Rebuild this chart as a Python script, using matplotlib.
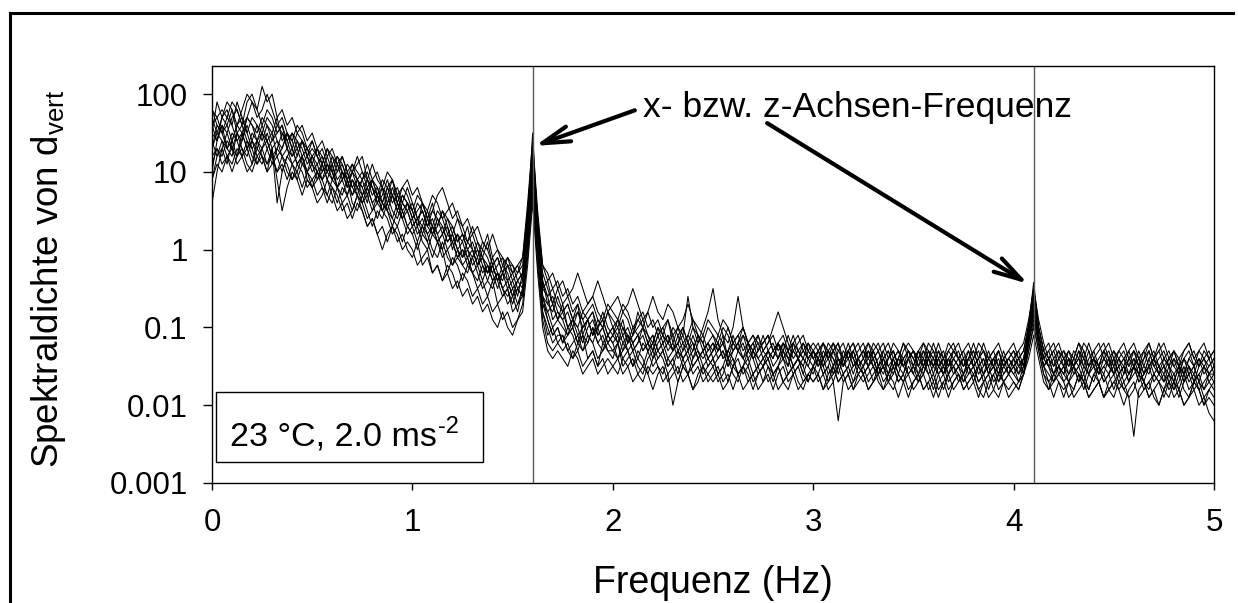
import matplotlib
matplotlib.use("Agg")
import matplotlib.pyplot as plt
import matplotlib.ticker as mticker
import numpy as np
from matplotlib.lines import Line2D

plt.rcParams["font.family"] = ["Liberation Sans", "DejaVu Sans"]
plt.rcParams["mathtext.fontset"] = "custom"
plt.rcParams["mathtext.rm"] = "Liberation Sans"
plt.rcParams["mathtext.it"] = "Liberation Sans:italic"
plt.rcParams["mathtext.bf"] = "Liberation Sans:bold"

# ── Data: log10 of spectral density, one value per 0.025 Hz (0 … 5 Hz) ──
freq_step = 0.025

psd_log_1 = [
    1.6, 1.7, 1.8, 1.7, 1.9, 1.8, 1.6, 1.9, 2.0, 1.8,
    2.1, 1.9, 2.0, 1.7, 1.8, 1.6, 1.7, 1.5, 1.6, 1.4,
    1.5, 1.3, 1.4, 1.2, 1.3, 1.1, 1.2, 1.0, 1.1, 0.9,
    1.0, 0.8, 0.9, 0.7, 0.8, 0.6, 0.7, 0.8, 0.6, 0.5,
    0.6, 0.4, 0.5, 0.3, 0.4, 0.2, 0.3, 0.1, 0.2, 0.0,
    0.1, -0.1, 0.0, -0.2, -0.1, -0.3, -0.2, -0.4, -0.3, -0.5,
    -0.4, -0.6, -0.3, 0.4, 1.5, 0.3, -0.4, -0.7, -0.8, -0.6,
    -0.8, -0.7, -0.9, -0.8, -1.0, -0.9, -0.8, -1.0, -0.9, -1.1,
    -1.0, -0.9, -1.1, -1.0, -1.2, -1.1, -1.0, -1.2, -1.1, -1.3,
    -1.2, -1.1, -1.3, -1.2, -1.1, -1.3, -1.2, -1.4, -1.3, -1.2,
    -1.3, -1.2, -1.4, -1.3, -1.2, -1.3, -1.4, -1.3, -1.2, -1.4,
    -1.3, -1.4, -1.3, -1.2, -1.4, -1.3, -1.5, -1.4, -1.3, -1.4,
    -1.3, -1.5, -1.4, -1.3, -1.4, -1.5, -1.3, -1.4, -1.6, -1.4,
    -1.3, -1.4, -1.5, -1.4, -1.3, -1.5, -1.4, -1.6, -1.4, -1.3,
    -1.4, -1.5, -1.3, -1.4, -1.6, -1.4, -1.5, -1.3, -1.4, -1.5,
    -1.4, -1.6, -1.5, -1.4, -1.3, -1.5, -1.4, -1.6, -1.5, -1.4,
    -1.5, -1.4, -1.3, -1.0, -0.42, -1.0, -1.3, -1.5, -1.4, -1.6,
    -1.5, -1.4, -1.6, -1.5, -1.3, -1.5, -1.4, -1.6, -1.5, -1.4,
    -1.6, -1.5, -1.4, -1.6, -1.5, -1.3, -1.5, -1.6, -1.4, -1.5,
    -1.6, -1.4, -1.5, -1.6, -1.4, -1.5, -1.7, -1.5, -1.4, -1.6,
    -1.5,
]

psd_log_2 = [
    0.6, 1.0, 1.3, 1.1, 1.4, 1.2, 1.5, 1.3, 1.1, 1.4,
    1.6, 1.4, 1.5, 1.2, 1.3, 1.5, 1.3, 1.1, 1.2, 1.0,
    1.2, 1.1, 0.9, 1.0, 1.1, 0.8, 0.9, 0.7, 0.9, 0.8,
    0.6, 0.7, 0.5, 0.6, 0.8, 0.5, 0.4, 0.6, 0.5, 0.3,
    0.4, 0.2, 0.3, 0.5, 0.3, 0.1, 0.2, 0.0, 0.1, 0.2,
    -0.1, 0.0, -0.2, -0.1, -0.3, -0.2, -0.4, -0.3, -0.5, -0.4,
    -0.6, -0.8, -0.5, 0.2, 1.1, 0.1, -0.6, -0.9, -1.1, -1.0,
    -1.2, -1.0, -1.1, -1.3, -1.1, -1.2, -1.0, -1.2, -1.3, -1.1,
    -1.2, -1.4, -1.3, -1.1, -1.2, -1.4, -1.5, -1.3, -1.2, -1.4,
    -1.3, -1.5, -1.4, -1.6, -1.4, -1.3, -1.5, -1.4, -1.3, -1.5,
    -1.4, -1.6, -1.5, -1.3, -1.4, -1.6, -1.5, -1.4, -1.6, -1.5,
    -1.4, -1.5, -1.7, -1.5, -1.4, -1.6, -1.5, -1.4, -1.5, -1.7,
    -1.5, -1.4, -1.6, -1.5, -1.7, -1.5, -1.4, -1.6, -1.5, -1.4,
    -1.6, -1.5, -1.4, -1.6, -1.5, -1.7, -1.6, -1.4, -1.5, -1.6,
    -1.5, -1.7, -1.6, -1.4, -1.5, -1.6, -1.8, -1.6, -1.5, -1.6,
    -1.7, -1.5, -1.6, -1.5, -1.7, -1.6, -1.5, -1.7, -1.6, -1.5,
    -1.6, -1.7, -1.5, -1.2, -0.8, -1.2, -1.5, -1.6, -1.7, -1.5,
    -1.6, -1.7, -1.5, -1.6, -1.8, -1.6, -1.5, -1.7, -1.6, -1.8,
    -1.7, -1.6, -1.8, -1.7, -1.5, -1.6, -1.8, -1.7, -1.6, -1.7,
    -1.8, -1.6, -1.7, -1.9, -1.7, -1.6, -1.8, -1.7, -1.9, -1.8,
    -1.7,
]

psd_log_3 = [
    1.5, 1.4, 1.6, 1.5, 1.7, 1.8, 1.6, 1.7, 1.9, 1.8,
    1.6, 1.8, 1.7, 1.5, 1.6, 1.4, 1.5, 1.3, 1.4, 1.2,
    1.3, 1.2, 1.0, 1.1, 0.9, 1.0, 1.2, 1.0, 0.8, 0.9,
    0.7, 0.8, 0.6, 0.7, 0.5, 0.6, 0.8, 0.6, 0.4, 0.5,
    0.3, 0.4, 0.2, 0.4, 0.3, 0.1, 0.2, 0.3, 0.1, -0.1,
    0.0, -0.2, -0.1, 0.0, -0.2, -0.3, -0.1, -0.3, -0.4, -0.2,
    -0.3, -0.5, -0.4, 0.3, 1.2, 0.2, -0.5, -0.6, -0.9, -0.8,
    -0.9, -1.1, -1.0, -0.8, -0.9, -1.1, -1.2, -1.0, -0.9, -1.1,
    -1.2, -1.1, -1.3, -1.2, -1.0, -1.1, -1.3, -1.2, -1.4, -1.2,
    -1.1, -1.3, -1.2, -1.4, -1.3, -1.1, -1.2, -1.4, -1.3, -1.2,
    -1.4, -1.3, -1.2, -1.4, -1.5, -1.3, -1.2, -1.4, -1.3, -1.5,
    -1.4, -1.3, -1.5, -1.4, -1.2, -1.3, -1.5, -1.4, -1.6, -1.4,
    -1.3, -1.4, -1.6, -1.5, -1.3, -1.4, -1.5, -1.3, -1.4, -1.6,
    -1.5, -1.4, -1.3, -1.5, -1.6, -1.4, -1.3, -1.5, -1.4, -1.6,
    -1.5, -1.3, -1.4, -1.6, -1.5, -1.4, -1.6, -1.5, -1.3, -1.4,
    -1.6, -1.5, -1.4, -1.6, -1.5, -1.3, -1.5, -1.6, -1.4, -1.5,
    -1.6, -1.5, -1.4, -1.1, -0.6, -1.1, -1.4, -1.5, -1.6, -1.4,
    -1.5, -1.6, -1.4, -1.5, -1.7, -1.5, -1.4, -1.6, -1.5, -1.6,
    -1.4, -1.6, -1.5, -1.7, -1.5, -1.4, -1.6, -1.5, -1.7, -1.6,
    -1.5, -1.7, -1.6, -1.5, -1.7, -1.6, -1.5, -1.7, -1.8, -1.6,
    -1.6,
]

psd_log_4 = [
    1.2, 1.3, 1.1, 1.2, 1.0, 1.2, 1.3, 1.1, 1.0, 1.2,
    1.3, 1.1, 1.2, 1.0, 1.1, 0.9, 1.1, 1.0, 0.8, 1.0,
    0.9, 0.7, 0.8, 0.6, 0.8, 0.7, 0.5, 0.6, 0.4, 0.6,
    0.5, 0.3, 0.4, 0.2, 0.3, 0.1, 0.3, 0.2, 0.0, 0.1,
    0.0, -0.2, -0.1, 0.0, -0.3, -0.2, -0.4, -0.2, -0.3, -0.5,
    -0.3, -0.4, -0.6, -0.5, -0.7, -0.6, -0.8, -0.7, -0.9, -0.8,
    -1.0, -0.9, -0.7, -0.1, 0.7, -0.2, -0.9, -1.2, -1.3, -1.2,
    -1.3, -1.2, -1.4, -1.3, -1.5, -1.4, -1.3, -1.5, -1.4, -1.6,
    -1.5, -1.4, -1.6, -1.5, -1.4, -1.6, -1.7, -1.5, -1.6, -1.5,
    -1.7, -1.6, -2.0, -1.7, -1.5, -1.6, -1.8, -1.6, -1.5, -1.7,
    -1.6, -1.5, -1.7, -1.6, -1.8, -1.6, -1.5, -1.7, -1.6, -1.5,
    -1.7, -1.6, -1.8, -1.6, -1.5, -1.7, -1.6, -1.8, -1.7, -1.6,
    -1.5, -1.7, -1.6, -1.8, -1.7, -2.2, -1.7, -1.6, -1.8, -1.6,
    -1.7, -1.6, -1.5, -1.7, -1.8, -1.6, -1.7, -1.9, -1.7, -1.6,
    -1.8, -1.7, -1.6, -1.8, -1.7, -1.9, -1.7, -1.6, -1.8, -1.7,
    -1.6, -1.8, -1.7, -1.9, -1.7, -1.6, -1.8, -1.9, -1.7, -1.8,
    -1.7, -1.8, -1.6, -1.3, -1.0, -1.3, -1.6, -1.7, -1.9, -1.7,
    -1.8, -1.7, -1.9, -1.8, -1.7, -1.9, -1.8, -1.7, -1.9, -1.8,
    -1.9, -1.7, -1.8, -1.9, -2.4, -1.8, -1.7, -1.9, -1.8, -2.0,
    -1.8, -1.9, -1.7, -1.8, -2.0, -1.9, -1.8, -2.0, -1.9, -2.1,
    -2.2,
]

psd_log_5 = [
    1.8, 1.6, 1.5, 1.7, 1.6, 1.4, 1.5, 1.3, 1.4, 1.6,
    1.5, 1.3, 1.4, 1.6, 1.5, 1.3, 1.2, 1.4, 1.3, 1.1,
    1.2, 1.0, 1.1, 1.3, 1.1, 0.9, 1.0, 0.8, 1.0, 0.9,
    0.8, 0.9, 0.7, 0.8, 0.6, 0.8, 0.7, 0.5, 0.7, 0.6,
    0.4, 0.5, 0.6, 0.4, 0.5, 0.7, 0.8, 0.6, 0.4, 0.5,
    0.3, 0.1, 0.2, 0.0, -0.1, 0.1, -0.2, -0.1, -0.3, -0.2,
    -0.4, -0.3, -0.2, 0.5, 1.3, 0.4, -0.3, -0.5, -0.7, -0.5,
    -0.7, -0.6, -0.8, -0.7, -0.9, -0.8, -0.7, -0.9, -1.0, -0.8,
    -0.9, -1.0, -0.8, -0.9, -1.1, -1.0, -0.9, -1.1, -1.2, -1.0,
    -1.1, -1.2, -1.0, -1.1, -1.3, -1.2, -1.0, -1.1, -1.3, -1.2,
    -1.1, -1.3, -1.2, -1.0, -1.2, -1.3, -1.1, -1.2, -1.4, -1.3,
    -1.2, -1.1, -1.3, -1.4, -1.2, -1.3, -1.1, -1.3, -1.4, -1.2,
    -1.3, -1.4, -1.2, -1.3, -1.5, -1.3, -1.2, -1.4, -1.3, -1.5,
    -1.4, -1.2, -1.3, -1.5, -1.4, -1.3, -1.5, -1.4, -1.2, -1.3,
    -1.4, -1.3, -1.5, -1.4, -1.2, -1.4, -1.3, -1.5, -1.4, -1.3,
    -1.5, -1.4, -1.3, -1.5, -1.4, -1.6, -1.4, -1.3, -1.5, -1.4,
    -1.3, -1.5, -1.4, -1.0, -0.55, -1.0, -1.3, -1.4, -1.5, -1.3,
    -1.4, -1.5, -1.3, -1.4, -1.6, -1.4, -1.3, -1.5, -1.4, -1.3,
    -1.5, -1.4, -1.3, -1.5, -1.4, -1.6, -1.4, -1.3, -1.5, -1.4,
    -1.3, -1.5, -1.4, -1.6, -1.4, -1.3, -1.5, -1.4, -1.6, -1.5,
    -1.4,
]

psd_log_6 = [
    1.1, 1.3, 1.2, 1.4, 1.3, 1.1, 1.2, 1.4, 1.3, 1.1,
    1.2, 1.0, 1.1, 1.3, 1.2, 1.0, 0.9, 1.1, 1.0, 0.8,
    0.9, 1.0, 0.8, 0.7, 0.9, 0.8, 0.6, 0.7, 0.9, 0.7,
    0.6, 0.4, 0.5, 0.7, 0.5, 0.4, 0.2, 0.3, 0.5, 0.3,
    0.2, 0.3, 0.1, 0.0, 0.2, 0.1, -0.1, 0.0, -0.2, -0.1,
    -0.2, -0.3, -0.1, -0.3, -0.5, -0.4, -0.2, -0.4, -0.6, -0.5,
    -0.7, -0.5, -0.6, 0.0, 0.9, 0.0, -0.7, -0.8, -1.0, -0.9,
    -1.0, -1.1, -0.9, -1.0, -1.2, -1.0, -0.9, -1.1, -1.0, -1.2,
    -1.1, -0.9, -1.0, -1.2, -1.1, -0.9, -1.0, -0.8, -1.0, -0.9,
    -1.1, -0.9, -1.2, -1.0, -1.1, -0.6, -1.0, -1.2, -1.0, -0.8,
    -0.5, -0.9, -1.1, -1.2, -1.0, -0.6, -1.0, -1.2, -1.1, -1.2,
    -1.2, -1.1, -1.3, -1.2, -1.1, -1.3, -1.2, -1.4, -1.3, -1.2,
    -1.4, -1.3, -1.2, -1.4, -1.3, -1.5, -1.4, -1.3, -1.5, -1.4,
    -1.3, -1.5, -1.4, -1.3, -1.5, -1.6, -1.4, -1.3, -1.5, -1.4,
    -1.6, -1.4, -1.5, -1.3, -1.4, -1.6, -1.5, -1.4, -1.6, -1.5,
    -1.4, -1.5, -1.7, -1.5, -1.4, -1.6, -1.5, -1.4, -1.6, -1.5,
    -1.4, -1.6, -1.5, -1.2, -0.75, -1.2, -1.5, -1.4, -1.6, -1.5,
    -1.6, -1.4, -1.5, -1.7, -1.5, -1.6, -1.4, -1.5, -1.7, -1.6,
    -1.5, -1.7, -1.6, -1.4, -1.5, -1.7, -1.6, -1.5, -1.4, -1.6,
    -1.7, -1.5, -1.6, -1.8, -1.6, -1.5, -1.7, -1.6, -1.5, -1.7,
    -1.6,
]

psd_log_7 = [
    1.4, 1.2, 1.3, 1.5, 1.3, 1.2, 1.4, 1.6, 1.4, 1.3,
    1.5, 1.4, 1.2, 1.3, 1.5, 1.4, 1.2, 1.3, 1.1, 1.2,
    1.0, 1.1, 1.2, 1.0, 0.9, 1.1, 1.0, 0.8, 1.0, 1.1,
    1.2, 0.9, 0.8, 0.7, 0.9, 0.8, 0.6, 0.7, 0.5, 0.6,
    0.5, 0.3, 0.4, 0.2, 0.3, 0.5, 0.4, 0.2, 0.3, 0.1,
    0.2, 0.0, -0.1, 0.1, -0.1, -0.2, -0.4, -0.3, -0.5, -0.6,
    -0.5, -0.7, -0.6, 0.1, 1.0, 0.1, -0.8, -1.0, -1.2, -1.1,
    -1.1, -1.3, -1.2, -1.1, -1.3, -1.2, -1.0, -1.2, -1.1, -1.3,
    -1.3, -1.2, -1.4, -1.3, -1.5, -1.4, -1.2, -1.3, -1.5, -1.4,
    -1.3, -1.5, -1.4, -1.3, -1.5, -1.6, -1.4, -1.3, -1.5, -1.4,
    -1.5, -1.4, -1.3, -1.5, -1.4, -1.6, -1.5, -1.3, -1.4, -1.6,
    -1.5, -1.4, -1.6, -1.5, -1.3, -1.4, -1.6, -1.5, -1.4, -1.5,
    -1.6, -1.4, -1.5, -1.7, -1.5, -1.4, -1.6, -1.5, -1.3, -1.5,
    -1.6, -1.5, -1.7, -1.5, -1.4, -1.6, -1.5, -1.7, -1.6, -1.4,
    -1.5, -1.6, -1.4, -1.5, -1.7, -1.5, -1.6, -1.4, -1.5, -1.7,
    -1.6, -1.4, -1.5, -1.7, -1.6, -1.5, -1.7, -1.6, -1.4, -1.6,
    -1.5, -1.6, -1.4, -1.1, -0.7, -1.1, -1.4, -1.5, -1.7, -1.6,
    -1.5, -1.7, -1.6, -1.5, -1.4, -1.6, -1.7, -1.5, -1.6, -1.4,
    -1.6, -1.5, -1.7, -1.6, -1.5, -1.7, -1.6, -1.4, -1.6, -1.7,
    -1.6, -1.8, -1.7, -1.5, -1.6, -1.8, -1.7, -1.6, -1.8, -1.7,
    -1.8,
]

psd_log_8 = [
    0.9, 1.1, 1.0, 1.2, 1.1, 1.3, 1.2, 1.0, 1.1, 1.3,
    1.2, 1.1, 1.3, 0.9, 0.5, 0.8, 1.0, 0.9, 0.7, 0.9,
    0.8, 0.6, 0.7, 0.9, 0.7, 0.5, 0.6, 0.4, 0.5, 0.7,
    0.5, 0.3, 0.4, 0.2, 0.0, 0.2, 0.3, 0.1, 0.2, 0.0,
    -0.1, 0.1, -0.2, -0.1, -0.3, -0.2, -0.4, -0.3, -0.5, -0.4,
    -0.6, -0.5, -0.7, -0.6, -0.8, -0.7, -0.9, -1.0, -0.8, -1.0,
    -1.1, -0.9, -0.8, -0.2, 0.6, -0.3, -1.0, -1.3, -1.4, -1.3,
    -1.4, -1.5, -1.3, -1.4, -1.6, -1.5, -1.4, -1.6, -1.5, -1.4,
    -1.5, -1.6, -1.4, -1.5, -1.7, -1.6, -1.5, -1.6, -1.8, -1.6,
    -1.5, -1.7, -1.6, -1.5, -1.7, -1.6, -1.8, -1.7, -1.5, -1.6,
    -1.7, -1.6, -1.8, -1.7, -1.5, -1.6, -1.8, -1.7, -1.6, -1.8,
    -1.7, -1.5, -1.6, -1.8, -1.7, -1.6, -1.5, -1.7, -1.8, -1.6,
    -1.7, -1.6, -1.8, -1.7, -1.6, -1.5, -1.7, -1.6, -1.8, -1.7,
    -1.6, -1.8, -1.7, -1.6, -1.8, -1.7, -1.5, -1.7, -1.6, -1.8,
    -1.7, -1.6, -1.8, -1.7, -1.9, -1.7, -1.6, -1.8, -1.7, -1.6,
    -1.8, -1.7, -1.6, -1.8, -1.7, -1.9, -1.8, -1.6, -1.7, -1.9,
    -1.8, -1.7, -1.6, -1.4, -1.1, -1.4, -1.7, -1.8, -1.6, -1.7,
    -1.9, -1.7, -1.8, -1.6, -1.7, -1.9, -1.8, -1.7, -1.9, -1.8,
    -1.7, -1.8, -2.0, -1.8, -1.7, -1.9, -1.8, -1.7, -1.9, -2.0,
    -1.8, -1.7, -1.9, -1.8, -2.0, -1.9, -1.7, -1.8, -2.0, -1.9,
    -2.0,
]

psd_log_9 = [
    1.3, 1.5, 1.7, 1.9, 1.8, 1.6, 1.8, 2.0, 1.9, 1.7,
    1.8, 2.0, 1.8, 1.6, 1.7, 1.5, 1.4, 1.6, 1.5, 1.3,
    1.4, 1.2, 1.3, 1.1, 1.0, 1.2, 1.1, 0.9, 1.0, 1.2,
    1.0, 0.9, 1.1, 0.9, 0.8, 1.0, 0.9, 0.7, 0.8, 0.9,
    0.7, 0.8, 0.6, 0.5, 0.7, 0.6, 0.4, 0.5, 0.6, 0.4,
    0.3, 0.4, 0.2, 0.3, 0.1, 0.0, 0.2, 0.0, -0.1, -0.2,
    -0.2, -0.3, -0.1, 0.6, 1.4, 0.5, -0.2, -0.3, -0.5, -0.4,
    -0.6, -0.5, -0.7, -0.6, -0.8, -0.7, -0.6, -0.8, -0.9, -0.7,
    -0.8, -0.9, -0.7, -0.8, -1.0, -0.9, -0.8, -1.0, -0.9, -1.1,
    -1.0, -0.9, -1.1, -1.0, -1.2, -1.1, -0.9, -1.1, -1.2, -1.0,
    -1.1, -1.2, -1.0, -1.1, -1.3, -1.2, -1.1, -1.3, -1.2, -1.1,
    -1.3, -1.2, -1.1, -1.3, -1.2, -1.4, -1.3, -1.2, -1.1, -1.3,
    -1.2, -1.3, -1.4, -1.2, -1.3, -1.2, -1.4, -1.3, -1.2, -1.4,
    -1.3, -1.2, -1.4, -1.3, -1.2, -1.4, -1.3, -1.5, -1.3, -1.2,
    -1.3, -1.4, -1.2, -1.3, -1.5, -1.3, -1.4, -1.2, -1.3, -1.4,
    -1.3, -1.2, -1.4, -1.3, -1.5, -1.4, -1.3, -1.2, -1.4, -1.3,
    -1.4, -1.3, -1.2, -0.9, -0.5, -0.9, -1.2, -1.4, -1.3, -1.2,
    -1.4, -1.3, -1.5, -1.4, -1.2, -1.3, -1.5, -1.4, -1.3, -1.2,
    -1.4, -1.3, -1.2, -1.4, -1.3, -1.5, -1.3, -1.2, -1.4, -1.3,
    -1.2, -1.4, -1.3, -1.5, -1.3, -1.2, -1.4, -1.3, -1.2, -1.4,
    -1.3,
]

psd_log_10 = [
    1.7, 1.5, 1.4, 1.3, 1.5, 1.4, 1.2, 1.3, 1.5, 1.4,
    1.3, 1.5, 1.3, 1.4, 1.2, 1.3, 1.1, 1.2, 1.4, 1.2,
    1.1, 1.0, 0.9, 1.1, 1.0, 0.8, 0.9, 1.0, 0.8, 0.7,
    0.9, 1.1, 0.9, 0.7, 0.6, 0.8, 0.9, 0.7, 0.6, 0.8,
    0.6, 0.4, 0.5, 0.3, 0.2, 0.4, 0.3, 0.1, 0.2, 0.0,
    -0.1, 0.1, 0.0, -0.2, -0.1, -0.3, -0.2, -0.4, -0.2, -0.3,
    -0.5, -0.4, -0.5, 0.2, 1.1, 0.2, -0.6, -0.8, -0.7, -0.9,
    -0.8, -1.0, -0.9, -1.1, -1.0, -0.9, -1.1, -1.0, -1.2, -1.1,
    -1.0, -1.2, -1.1, -1.3, -1.2, -1.1, -1.3, -1.2, -1.1, -1.3,
    -1.2, -1.4, -1.3, -1.2, -1.4, -1.3, -1.1, -1.3, -1.4, -1.3,
    -1.2, -1.4, -1.3, -1.5, -1.3, -1.2, -1.4, -1.5, -1.3, -1.4,
    -1.5, -1.3, -1.4, -1.2, -1.4, -1.5, -1.3, -1.4, -1.5, -1.3,
    -1.4, -1.5, -1.3, -1.4, -1.6, -1.4, -1.5, -1.3, -1.4, -1.5,
    -1.4, -1.3, -1.5, -1.6, -1.4, -1.5, -1.6, -1.4, -1.5, -1.3,
    -1.4, -1.6, -1.5, -1.3, -1.4, -1.5, -1.4, -1.6, -1.5, -1.4,
    -1.5, -1.3, -1.5, -1.4, -1.6, -1.5, -1.4, -1.5, -1.3, -1.5,
    -1.4, -1.5, -1.6, -1.2, -0.9, -1.2, -1.5, -1.4, -1.6, -1.5,
    -1.4, -1.6, -1.5, -1.4, -1.5, -1.3, -1.5, -1.6, -1.4, -1.5,
    -1.6, -1.4, -1.5, -1.6, -1.4, -1.5, -1.7, -1.5, -1.4, -1.6,
    -1.5, -1.6, -1.4, -1.5, -1.7, -1.5, -1.6, -1.4, -1.5, -1.6,
    -1.5,
]

psd_log_11 = [
    1.5, 1.9, 1.7, 1.6, 1.8, 1.5, 1.4, 1.7, 1.6, 1.5,
    1.7, 1.6, 1.4, 1.5, 1.6, 1.3, 1.5, 1.4, 1.2, 1.3,
    1.2, 1.3, 1.1, 0.9, 1.1, 1.2, 1.0, 0.9, 0.7, 0.9,
    0.8, 0.6, 0.9, 0.8, 0.6, 0.5, 0.7, 0.6, 0.4, 0.6,
    0.5, 0.3, 0.6, 0.4, 0.2, 0.3, 0.5, 0.3, 0.0, 0.2,
    0.1, 0.3, 0.0, -0.2, 0.0, -0.1, -0.3, -0.2, -0.1, -0.4,
    -0.3, -0.2, -0.4, 0.4, 1.25, 0.3, -0.5, -0.4, -0.7, -0.9,
    -0.7, -1.0, -0.9, -0.7, -1.1, -0.9, -0.8, -1.1, -1.0, -0.8,
    -1.0, -1.1, -0.9, -1.2, -1.1, -0.8, -1.0, -1.1, -1.3, -1.1,
    -1.0, -1.2, -1.3, -1.1, -1.0, -1.2, -1.4, -1.2, -1.1, -1.3,
    -1.2, -1.3, -1.1, -1.4, -1.2, -1.1, -1.3, -1.2, -1.4, -1.3,
    -1.1, -1.3, -1.4, -1.2, -1.3, -1.5, -1.2, -1.3, -1.2, -1.4,
    -1.5, -1.3, -1.2, -1.4, -1.3, -1.2, -1.5, -1.4, -1.3, -1.2,
    -1.4, -1.5, -1.3, -1.2, -1.4, -1.3, -1.5, -1.4, -1.2, -1.4,
    -1.3, -1.5, -1.4, -1.2, -1.3, -1.5, -1.6, -1.4, -1.3, -1.2,
    -1.4, -1.3, -1.5, -1.4, -1.2, -1.4, -1.5, -1.3, -1.5, -1.6,
    -1.4, -1.3, -1.5, -1.0, -0.65, -1.1, -1.4, -1.3, -1.2, -1.4,
    -1.3, -1.5, -1.4, -1.2, -1.4, -1.5, -1.3, -1.2, -1.4, -1.5,
    -1.3, -1.4, -1.6, -1.4, -1.3, -1.5, -1.4, -1.2, -1.4, -1.3,
    -1.5, -1.4, -1.3, -1.5, -1.6, -1.4, -1.3, -1.5, -1.4, -1.3,
    -1.5,
]

psd_log_12 = [
    1.0, 1.4, 1.6, 1.3, 1.2, 1.5, 1.6, 1.4, 1.2, 1.1,
    1.3, 1.4, 1.2, 1.0, 1.2, 1.1, 0.9, 1.0, 1.2, 0.9,
    0.8, 1.0, 0.9, 0.7, 0.6, 0.8, 0.7, 0.9, 0.6, 0.5,
    0.7, 0.5, 0.3, 0.5, 0.4, 0.6, 0.4, 0.3, 0.1, 0.3,
    0.2, 0.0, 0.2, 0.1, -0.1, 0.1, 0.0, -0.3, -0.1, -0.2,
    -0.4, -0.2, -0.3, -0.5, -0.4, -0.6, -0.4, -0.7, -0.6, -0.5,
    -0.8, -0.7, -0.5, 0.1, 0.8, -0.1, -0.8, -1.1, -1.0, -1.2,
    -1.1, -1.3, -1.4, -1.2, -1.1, -1.4, -1.3, -1.5, -1.2, -1.3,
    -1.4, -1.2, -1.5, -1.4, -1.3, -1.5, -1.6, -1.4, -1.3, -1.5,
    -1.6, -1.4, -1.5, -1.7, -1.5, -1.4, -1.6, -1.5, -1.7, -1.6,
    -1.5, -1.7, -1.6, -1.4, -1.6, -1.7, -1.5, -1.6, -1.8, -1.6,
    -1.5, -1.7, -1.6, -1.5, -1.7, -1.8, -1.6, -1.5, -1.7, -1.6,
    -1.7, -1.6, -1.8, -1.6, -1.5, -1.7, -1.6, -1.8, -1.7, -1.5,
    -1.6, -1.8, -1.7, -1.6, -1.5, -1.7, -1.8, -1.6, -1.7, -1.9,
    -1.7, -1.6, -1.8, -1.7, -1.6, -1.8, -1.7, -1.9, -1.7, -1.6,
    -1.8, -1.7, -1.6, -1.8, -1.9, -1.7, -1.6, -1.8, -1.7, -1.6,
    -1.7, -1.8, -1.6, -1.3, -0.95, -1.3, -1.6, -1.8, -1.7, -1.6,
    -1.7, -1.9, -1.8, -1.6, -1.7, -1.8, -1.6, -1.7, -1.9, -1.7,
    -1.6, -1.8, -1.7, -1.9, -1.8, -1.6, -1.7, -1.9, -1.8, -1.7,
    -1.9, -1.7, -1.8, -1.6, -1.8, -1.9, -1.7, -1.8, -2.0, -1.8,
    -1.9,
]

psd_log_13 = [
    1.3, 1.6, 1.5, 1.3, 1.4, 1.6, 1.7, 1.5, 1.3, 1.4,
    1.2, 1.0, 1.3, 0.6, 1.0, 1.2, 1.3, 1.1, 1.2, 1.0,
    1.1, 0.9, 1.0, 1.2, 1.0, 0.8, 1.0, 0.9, 0.7, 0.8,
    0.7, 0.9, 0.8, 0.6, 0.5, 0.7, 0.5, 0.4, 0.6, 0.5,
    0.3, 0.4, 0.3, 0.1, 0.3, 0.2, 0.0, 0.2, 0.1, -0.1,
    0.0, -0.1, -0.3, -0.2, -0.4, -0.2, -0.3, -0.5, -0.3, -0.4,
    -0.6, -0.4, -0.3, 0.3, 1.0, 0.2, -0.6, -0.7, -0.6, -0.8,
    -0.9, -0.8, -1.0, -1.2, -1.0, -0.9, -1.1, -1.0, -0.8, -1.0,
    -1.1, -1.0, -1.2, -1.1, -1.3, -1.2, -1.0, -1.2, -1.3, -1.1,
    -1.3, -1.2, -1.1, -1.3, -1.2, -1.4, -1.3, -1.1, -1.2, -1.4,
    -1.3, -1.2, -1.4, -1.3, -1.1, -1.3, -1.4, -1.2, -1.3, -1.1,
    -1.3, -1.2, -1.0, -0.8, -1.0, -1.2, -1.4, -1.3, -1.4, -1.5,
    -1.3, -1.4, -1.5, -1.3, -1.4, -1.6, -1.4, -1.3, -1.5, -1.4,
    -1.5, -1.3, -1.4, -1.6, -1.5, -1.4, -1.3, -1.5, -1.6, -1.4,
    -1.3, -1.5, -1.6, -1.4, -1.5, -1.3, -1.5, -1.6, -1.4, -1.5,
    -1.6, -1.4, -1.3, -1.5, -1.6, -1.4, -1.5, -1.7, -1.5, -1.4,
    -1.5, -1.4, -1.6, -1.1, -0.8, -1.2, -1.5, -1.4, -1.3, -1.5,
    -1.6, -1.4, -1.5, -1.3, -1.5, -1.6, -1.4, -1.5, -1.3, -1.5,
    -1.4, -1.6, -1.5, -1.3, -1.5, -1.6, -1.5, -1.3, -1.5, -1.6,
    -1.4, -1.5, -1.7, -1.5, -1.4, -1.6, -1.5, -1.7, -1.5, -1.4,
    -1.6,
]

psd_log_14 = [
    1.6, 1.4, 1.7, 1.8, 1.6, 1.9, 1.7, 1.5, 1.7, 1.6,
    1.4, 1.6, 1.5, 1.7, 1.4, 1.5, 1.3, 1.5, 1.4, 1.2,
    1.4, 1.2, 1.1, 1.3, 1.2, 1.0, 1.1, 0.9, 1.1, 1.0,
    0.9, 0.7, 0.9, 1.0, 0.8, 0.7, 0.9, 0.6, 0.8, 0.7,
    0.5, 0.7, 0.6, 0.4, 0.6, 0.3, 0.5, 0.4, 0.2, 0.4,
    0.2, 0.1, 0.3, 0.1, 0.0, 0.2, -0.1, 0.0, -0.2, -0.1,
    -0.3, -0.2, -0.1, 0.5, 1.35, 0.4, -0.2, -0.4, -0.3, -0.5,
    -0.4, -0.6, -0.5, -0.3, -0.5, -0.7, -0.6, -0.4, -0.6, -0.8,
    -0.7, -0.6, -0.8, -0.7, -0.5, -0.7, -0.9, -0.8, -0.6, -0.8,
    -0.9, -0.7, -0.8, -1.0, -0.9, -0.7, -0.9, -1.0, -1.1, -0.9,
    -1.0, -1.1, -0.9, -1.0, -1.2, -1.1, -1.0, -1.2, -1.1, -1.3,
    -1.2, -1.1, -1.3, -1.2, -1.4, -1.3, -1.2, -1.1, -1.3, -1.4,
    -1.3, -1.2, -1.4, -1.3, -1.2, -1.4, -1.5, -1.3, -1.2, -1.4,
    -1.3, -1.4, -1.2, -1.3, -1.5, -1.4, -1.2, -1.3, -1.4, -1.3,
    -1.5, -1.3, -1.2, -1.4, -1.3, -1.5, -1.4, -1.3, -1.2, -1.4,
    -1.3, -1.5, -1.4, -1.2, -1.3, -1.4, -1.3, -1.5, -1.4, -1.3,
    -1.2, -1.4, -1.3, -0.95, -0.5, -1.0, -1.3, -1.2, -1.4, -1.3,
    -1.5, -1.3, -1.4, -1.2, -1.3, -1.5, -1.4, -1.3, -1.2, -1.4,
    -1.3, -1.5, -1.4, -1.3, -1.2, -1.4, -1.3, -1.5, -1.4, -1.2,
    -1.4, -1.3, -1.5, -1.4, -1.3, -1.2, -1.4, -1.5, -1.3, -1.4,
    -1.3,
]

psd_log_15 = [
    0.9, 1.2, 1.4, 1.2, 1.3, 1.5, 1.3, 1.2, 1.4, 1.2,
    1.1, 1.3, 1.1, 1.2, 1.0, 1.2, 1.1, 0.9, 1.1, 1.0,
    0.8, 0.9, 1.1, 0.9, 0.8, 0.6, 0.8, 0.7, 0.5, 0.7,
    0.6, 0.8, 0.6, 0.4, 0.6, 0.5, 0.3, 0.5, 0.4, 0.2,
    0.3, 0.1, 0.3, 0.2, 0.0, -0.1, 0.1, -0.1, -0.2, 0.0,
    -0.2, -0.1, -0.3, -0.4, -0.2, -0.4, -0.5, -0.3, -0.5, -0.7,
    -0.6, -0.5, -0.6, 0.0, 0.85, 0.0, -0.7, -0.9, -1.1, -1.0,
    -1.2, -1.1, -1.0, -1.2, -1.3, -1.1, -1.2, -1.4, -1.3, -1.2,
    -1.3, -1.4, -1.2, -1.3, -1.5, -1.3, -1.4, -1.6, -1.4, -1.3,
    -1.4, -1.6, -1.5, -1.3, -1.4, -1.6, -1.5, -1.4, -1.6, -1.5,
    -1.4, -1.6, -1.5, -1.7, -1.5, -1.4, -1.6, -1.5, -1.7, -1.6,
    -1.5, -1.4, -1.6, -1.5, -1.7, -1.6, -1.5, -1.4, -1.6, -1.7,
    -1.5, -1.6, -1.4, -1.6, -1.5, -1.7, -1.6, -1.5, -1.7, -1.6,
    -1.5, -1.7, -1.6, -1.5, -1.7, -1.6, -1.4, -1.6, -1.7, -1.5,
    -1.6, -1.7, -1.5, -1.6, -1.8, -1.6, -1.5, -1.7, -1.6, -1.5,
    -1.7, -1.6, -1.5, -1.7, -1.6, -1.8, -1.6, -1.5, -1.7, -1.6,
    -1.5, -1.7, -1.6, -1.2, -0.85, -1.2, -1.5, -1.7, -1.6, -1.5,
    -1.7, -1.6, -1.5, -1.7, -1.6, -1.8, -1.6, -1.5, -1.7, -1.6,
    -1.8, -1.6, -1.5, -1.7, -1.6, -1.5, -1.7, -1.8, -1.6, -1.5,
    -1.7, -1.6, -1.8, -1.7, -1.5, -1.7, -1.6, -1.8, -1.7, -1.6,
    -1.7,
]

psd_log_16 = [
    1.8, 1.7, 1.5, 1.6, 1.4, 1.6, 1.5, 1.7, 1.6, 1.4,
    1.5, 1.7, 1.6, 1.4, 1.3, 1.5, 1.4, 1.2, 1.4, 1.3,
    1.1, 1.3, 1.2, 1.0, 1.2, 1.1, 0.9, 1.1, 1.0, 0.8,
    0.9, 1.0, 0.8, 0.6, 0.7, 0.9, 0.7, 0.5, 0.7, 0.6,
    0.4, 0.6, 0.5, 0.3, 0.5, 0.4, 0.2, 0.4, 0.3, 0.1,
    0.2, 0.0, 0.1, -0.1, 0.1, 0.0, -0.2, -0.1, -0.3, -0.1,
    -0.2, -0.4, -0.3, 0.35, 1.2, 0.25, -0.4, -0.6, -0.5, -0.7,
    -0.8, -0.7, -0.9, -1.0, -0.8, -0.9, -1.1, -0.9, -1.0, -1.2,
    -1.1, -1.2, -1.0, -1.1, -1.3, -1.2, -1.1, -1.3, -1.2, -1.0,
    -1.2, -1.1, -1.3, -1.2, -1.0, -1.2, -1.3, -1.1, -1.2, -1.4,
    -1.3, -1.1, -1.2, -1.4, -1.3, -1.2, -1.0, -1.2, -1.3, -1.2,
    -1.4, -1.3, -1.2, -1.4, -1.3, -1.1, -1.3, -1.4, -1.2, -1.3,
    -1.4, -1.3, -1.5, -1.4, -1.2, -1.3, -1.4, -1.2, -1.4, -1.3,
    -1.2, -1.4, -1.3, -1.5, -1.3, -1.2, -1.4, -1.3, -1.5, -1.4,
    -1.3, -1.4, -1.3, -1.5, -1.4, -1.2, -1.4, -1.5, -1.3, -1.4,
    -1.5, -1.4, -1.2, -1.4, -1.3, -1.5, -1.4, -1.3, -1.5, -1.4,
    -1.3, -1.4, -1.5, -1.1, -0.7, -1.1, -1.4, -1.3, -1.5, -1.4,
    -1.3, -1.4, -1.5, -1.3, -1.4, -1.2, -1.4, -1.5, -1.3, -1.4,
    -1.5, -1.3, -1.4, -1.5, -1.3, -1.4, -1.6, -1.4, -1.3, -1.5,
    -1.4, -1.5, -1.3, -1.4, -1.6, -1.4, -1.5, -1.3, -1.4, -1.5,
    -1.4,
]

spectra = [psd_log_1, psd_log_2, psd_log_3, psd_log_4, psd_log_5,
           psd_log_6, psd_log_7, psd_log_8, psd_log_9, psd_log_10,
           psd_log_11, psd_log_12, psd_log_13, psd_log_14, psd_log_15,
           psd_log_16]

axis_freqs = [1.6, 4.1]          # x- and z-axis frequencies (Hz)
y_ticks = [0.001, 0.01, 0.1, 1, 10, 100]
y_tick_labels = ["0.001", "0.01", "0.1", "1", "10", "100"]
x_ticks = [0, 1, 2, 3, 4, 5]

# ── Figure ──────────────────────────────────────────────────────────
W, H = 1238, 603
fig = plt.figure(figsize=(W / 100, H / 100), dpi=100)
ax = fig.add_axes([212 / W, 1 - 483 / H, (1214 - 212) / W, (483 - 66) / H])

for vals in spectra:
    v = np.array(vals)
    f = np.arange(len(v)) * freq_step
    ax.plot(f, 10 ** v, color="black", lw=0.75)

for fx in axis_freqs:
    ax.axvline(fx, color="0.35", lw=1.0)

ax.set_yscale("log")
ax.set_xlim(0, 5)
ax.set_ylim(0.001, 230)
ax.set_yticks(y_ticks)
ax.set_yticklabels(y_tick_labels)
ax.yaxis.set_minor_locator(mticker.NullLocator())
ax.set_xticks(x_ticks)
ax.set_xticklabels([str(t) for t in x_ticks])
ax.tick_params(axis="y", direction="out", length=6.5, width=1, labelsize=22.5, pad=11)
ax.tick_params(axis="x", direction="out", length=5, width=1, labelsize=22.5, pad=13)
for s in ax.spines.values():
    s.set_linewidth(1)

ax.set_xlabel("Frequenz (Hz)", fontsize=27)
ax.xaxis.set_label_coords(0.5, (483 - 593) / 417)
ax.xaxis.label.set_va("baseline")
ax.set_ylabel(r"Spektraldichte von d$_{\mathrm{vert}}$", fontsize=26.5)
ax.yaxis.set_label_coords((49 - 212) / 1002, 0.49)
ax.yaxis.label.set_va("center")

# annotation with two arrows
ax.text(2.15, 10 ** (2 - (117 - 94) / 77.8), "x- bzw. z-Achsen-Frequenz",
        fontsize=25.5, va="baseline", ha="left")
arrow = dict(arrowstyle="->,head_length=1.0,head_width=0.28", lw=3,
             color="black", shrinkA=0, shrinkB=0, mutation_scale=20)
ax.annotate("", xy=(1.612, 21.6), xytext=(2.11, 62), arrowprops=arrow)
ax.annotate("", xy=(4.072, 0.365), xytext=(2.77, 42.4), arrowprops=arrow)

# condition box
box = plt.Rectangle((216 / W, 1 - 462 / H), (483 - 216) / W, 70 / H,
                    transform=fig.transFigure, facecolor="white",
                    edgecolor="black", lw=1, zorder=5)
fig.add_artist(box)
cond = fig.text(230 / W, 1 - 445 / H, "23 °C, 2.0 ms", fontsize=24.5,
                va="baseline", ha="left", zorder=6)
fig.canvas.draw()
ext = cond.get_window_extent()
fig.text((ext.x1 + 1) / W, 1 - 433 / H, "-2", fontsize=17,
         va="baseline", ha="left", zorder=6)

# outer frame (cropped at right and bottom)
fig.add_artist(Line2D([10 / W, 1233 / W], [1 - 13 / H, 1 - 13 / H],
                      transform=fig.transFigure, color="black", lw=2.2))
fig.add_artist(Line2D([10 / W, 10 / W], [1 - 13 / H, 0],
                      transform=fig.transFigure, color="black", lw=2.2))

fig.savefig("out.png", dpi=100)
